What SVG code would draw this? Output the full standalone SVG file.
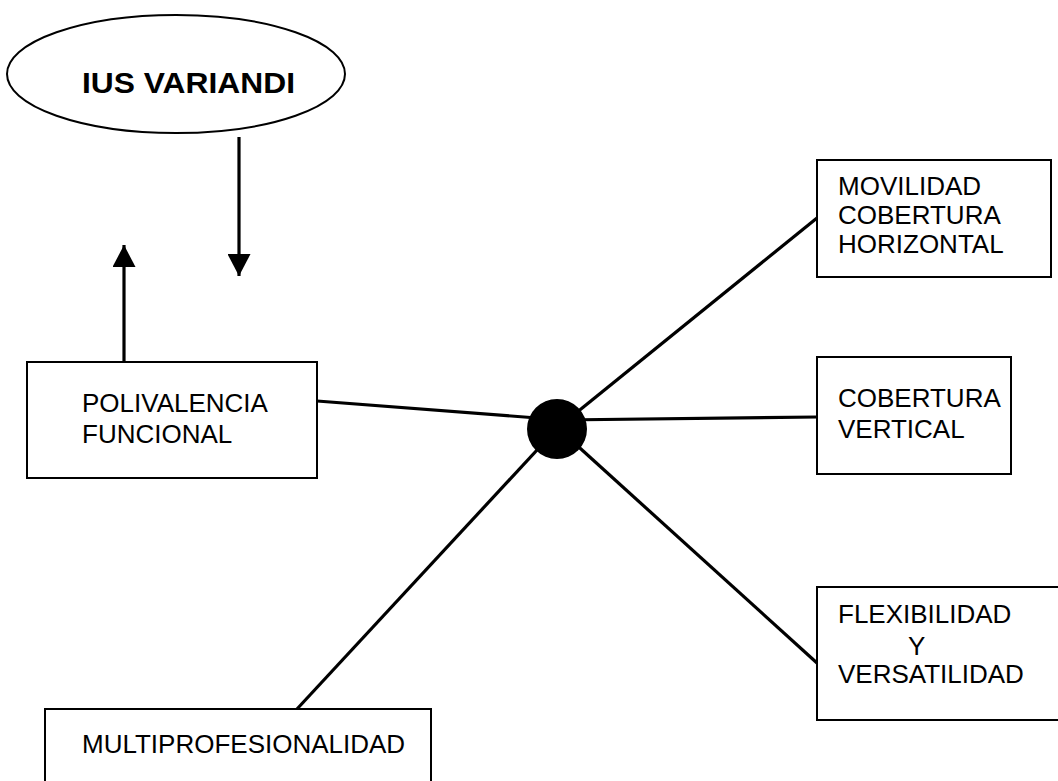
<svg xmlns="http://www.w3.org/2000/svg" width="1058" height="781" viewBox="0 0 1058 781">
  <style>
    .box { fill: #ffffff; stroke: #000000; stroke-width: 2; }
    .lbl { font-family: "Liberation Sans", Arial, sans-serif; font-size: 26px; fill: #000000; }
    .title { font-family: "Liberation Sans", Arial, sans-serif; font-size: 30px; font-weight: bold; fill: #000000; }
    .conn { stroke: #000000; stroke-width: 3.2; fill: none; }
  </style>
  <defs>
    <marker id="arrow" viewBox="0 0 22 23" refX="22" refY="11.5" markerWidth="22" markerHeight="23" markerUnits="userSpaceOnUse" orient="auto">
      <path d="M0,0 L22,11.5 L0,23 z" fill="#000000"/>
    </marker>
  </defs>
  <rect width="1058" height="781" fill="#ffffff"/>

  <g id="connectors">
    <line class="conn" x1="239" y1="137" x2="239" y2="276" marker-end="url(#arrow)"/>
    <line class="conn" x1="124" y1="361" x2="124" y2="245" marker-end="url(#arrow)"/>
    <line class="conn" x1="317" y1="401" x2="550" y2="419"/>
    <line class="conn" x1="817" y1="218" x2="560" y2="426"/>
    <line class="conn" x1="817" y1="417" x2="560" y2="420"/>
    <line class="conn" x1="817" y1="663" x2="560" y2="430"/>
    <line class="conn" x1="297" y1="709" x2="550" y2="436"/>
  </g>

  <g id="hub">
    <circle cx="557" cy="429" r="30" fill="#000000"/>
  </g>

  <g id="ius-variandi">
    <ellipse cx="176" cy="74" rx="169" ry="59" fill="#ffffff" stroke="#000000" stroke-width="2"/>
    <text class="title" x="82" y="93" textLength="213" lengthAdjust="spacingAndGlyphs">IUS VARIANDI</text>
  </g>

  <g id="polivalencia">
    <rect class="box" x="27" y="362" width="290" height="116"/>
    <text class="lbl" x="82" y="412">POLIVALENCIA</text>
    <text class="lbl" x="82" y="443">FUNCIONAL</text>
  </g>

  <g id="movilidad">
    <rect class="box" x="817" y="160" width="234" height="117"/>
    <text class="lbl" x="838" y="195">MOVILIDAD</text>
    <text class="lbl" x="838" y="224">COBERTURA</text>
    <text class="lbl" x="838" y="253">HORIZONTAL</text>
  </g>

  <g id="cobertura-vertical">
    <rect class="box" x="817" y="357" width="194" height="117"/>
    <text class="lbl" x="838" y="407">COBERTURA</text>
    <text class="lbl" x="838" y="438">VERTICAL</text>
  </g>

  <g id="flexibilidad">
    <rect class="box" x="817" y="587" width="250" height="133"/>
    <text class="lbl" x="838" y="623">FLEXIBILIDAD</text>
    <text class="lbl" x="908" y="655">Y</text>
    <text class="lbl" x="838" y="683">VERSATILIDAD</text>
  </g>

  <g id="multiprofesionalidad">
    <rect class="box" x="45" y="709" width="386" height="100"/>
    <text class="lbl" x="82" y="753">MULTIPROFESIONALIDAD</text>
  </g>
</svg>
